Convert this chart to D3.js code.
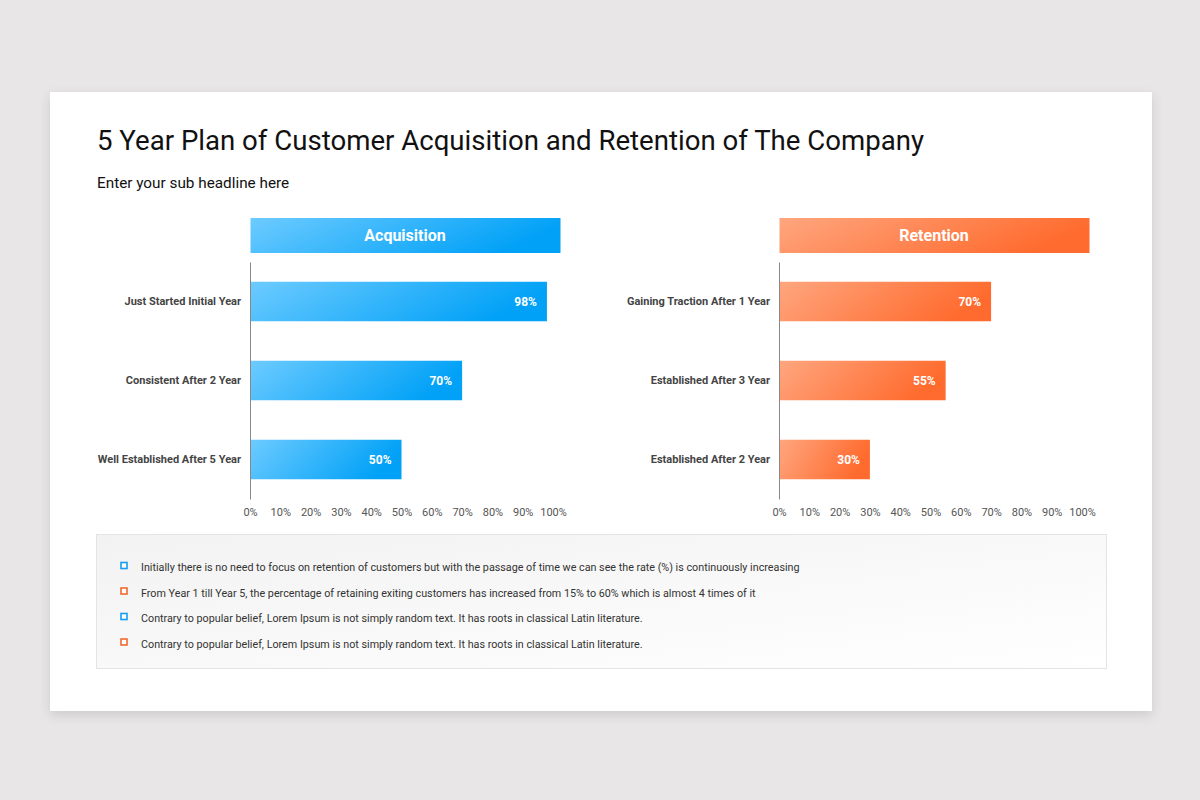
<!DOCTYPE html>
<html>
<head>
<meta charset="utf-8">
<script src="https://cdn.jsdelivr.net/npm/d3@7"></script>
<style>
  body { margin: 0; background: #e8e6e7; font-family: Roboto, "Open Sans", sans-serif; }
</style>
</head>
<body>
<div id="chart"></div>
<script>
// chart data
var acqCategories = ["Just Started Initial Year", "Consistent After 2 Year", "Well Established After 5 Year"];
var acqValues = [98, 70, 50];
var retCategories = ["Gaining Traction After 1 Year", "Established After 3 Year", "Established After 2 Year"];
var retValues = [70, 55, 30];
var tickValues = [0, 10, 20, 30, 40, 50, 60, 70, 80, 90, 100];
var notes = [
  "Initially there is no need to focus on retention of customers but with the passage of time we can see the rate (%) is continuously increasing",
  "From Year 1 till Year 5, the percentage of retaining exiting customers has increased from 15% to 60% which is almost 4 times of it",
  "Contrary to popular belief, Lorem Ipsum is not simply random text. It has roots in classical Latin literature.",
  "Contrary to popular belief, Lorem Ipsum is not simply random text. It has roots in classical Latin literature."
];
var noteColors = ["#1a9cf0", "#f26a2e", "#1a9cf0", "#f26a2e"];

var svgWidth = 1200;
var svgHeight = 800;

var svg = d3.select("#chart")
  .append("svg")
  .attr("width", svgWidth)
  .attr("height", svgHeight);

var defs = svg.append("defs");

// card shadow
var shadow = defs.append("filter").attr("id", "shadow")
  .attr("x", "-5%").attr("y", "-5%").attr("width", "110%").attr("height", "115%");
shadow.append("feDropShadow").attr("dx", 0).attr("dy", 4).attr("stdDeviation", 6)
  .attr("flood-color", "#000").attr("flood-opacity", 0.12);

function makeGradient(id, c1, c2) {
  var g = defs.append("linearGradient").attr("id", id)
    .attr("x1", "0%").attr("y1", "0%").attr("x2", "100%").attr("y2", "25%");
  g.append("stop").attr("offset", "0%").attr("stop-color", c1);
  g.append("stop").attr("offset", "100%").attr("stop-color", c2);
}
makeGradient("blueGrad", "#6dcbff", "#01a1f7");
makeGradient("orangeGrad", "#ffa67f", "#ff6b2e");

var boxGrad = defs.append("linearGradient").attr("id", "boxGrad")
  .attr("x1", "0%").attr("y1", "0%").attr("x2", "100%").attr("y2", "100%");
boxGrad.append("stop").attr("offset", "0%").attr("stop-color", "#f2f2f2");
boxGrad.append("stop").attr("offset", "100%").attr("stop-color", "#ffffff");

// card
svg.append("rect")
  .attr("x", 50).attr("y", 92)
  .attr("width", 1102).attr("height", 619)
  .attr("fill", "#fff")
  .attr("filter", "url(#shadow)");

// titles
svg.append("text")
  .attr("x", 97).attr("y", 150)
  .style("font-size", "27.6px")
  .style("fill", "#111")
  .text("5 Year Plan of Customer Acquisition and Retention of The Company");

svg.append("text")
  .attr("x", 97).attr("y", 188)
  .style("font-size", "15.3px")
  .style("fill", "#111")
  .text("Enter your sub headline here");

function drawPanel(left, title, categories, values, grad) {
  var g = svg.append("g");

  var x = d3.scaleLinear().domain([0, 100]).range([left, left + 303]);
  var y = d3.scaleBand().domain(categories).range([262, 499]).paddingInner(0.5).paddingOuter(0.25);

  // header bar
  g.append("rect")
    .attr("x", left + 0.5).attr("y", 218)
    .attr("width", 310).attr("height", 35)
    .attr("fill", "url(#" + grad + ")");
  g.append("text")
    .attr("x", left + 155).attr("y", 241)
    .attr("text-anchor", "middle")
    .style("font-size", "16px")
    .style("font-weight", "bold")
    .style("fill", "#fff")
    .text(title);

  // bars
  g.selectAll("rect.bar")
    .data(values)
    .enter()
    .append("rect")
    .attr("class", "bar")
    .attr("x", x(0))
    .attr("y", (d, i) => y(categories[i]))
    .attr("width", d => x(d) - x(0))
    .attr("height", y.bandwidth())
    .attr("fill", "url(#" + grad + ")");

  g.selectAll("text.val")
    .data(values)
    .enter()
    .append("text")
    .attr("class", "val")
    .attr("x", d => x(d) - 10)
    .attr("y", (d, i) => y(categories[i]) + y.bandwidth() / 2 + 4)
    .attr("text-anchor", "end")
    .style("font-size", "12px")
    .style("font-weight", "bold")
    .style("fill", "#fff")
    .text(d => d + "%");

  // category axis
  var leftAxis = d3.axisLeft(y).tickSize(0).tickPadding(9);
  var ya = g.append("g")
    .attr("transform", `translate(${left}, 0)`)
    .call(leftAxis);
  ya.select(".domain").attr("stroke", "#888").attr("stroke-width", 1);
  ya.selectAll("text")
    .style("font-family", "Roboto, sans-serif")
    .style("font-size", "11px")
    .style("font-weight", "bold")
    .style("fill", "#444");

  // value axis
  var bottomAxis = d3.axisBottom(x).tickValues(tickValues).tickSize(0).tickPadding(9)
    .tickFormat(d => d + "%");
  var xa = g.append("g")
    .attr("transform", "translate(0, 499)")
    .call(bottomAxis);
  xa.select(".domain").remove();
  xa.selectAll("text")
    .style("font-family", "Roboto, sans-serif")
    .style("font-size", "11px")
    .style("fill", "#555");
}

drawPanel(250, "Acquisition", acqCategories, acqValues, "blueGrad");
drawPanel(779, "Retention", retCategories, retValues, "orangeGrad");

// notes box
svg.append("rect")
  .attr("x", 96.5).attr("y", 534.5)
  .attr("width", 1010).attr("height", 134)
  .attr("fill", "url(#boxGrad)")
  .attr("stroke", "#e4e4e4");

var noteRows = svg.selectAll("g.note")
  .data(notes)
  .enter()
  .append("g")
  .attr("class", "note")
  .attr("transform", (d, i) => `translate(0, ${567 + i * 25.5})`);

noteRows.append("rect")
  .attr("x", 121).attr("y", -4.5)
  .attr("width", 6).attr("height", 6)
  .attr("fill", "#fff")
  .attr("stroke", (d, i) => noteColors[i])
  .attr("stroke-width", 1.6);

noteRows.append("text")
  .attr("x", 141).attr("y", 4)
  .style("font-size", "10.75px")
  .style("fill", "#333")
  .text(d => d);
</script>
</body>
</html>
